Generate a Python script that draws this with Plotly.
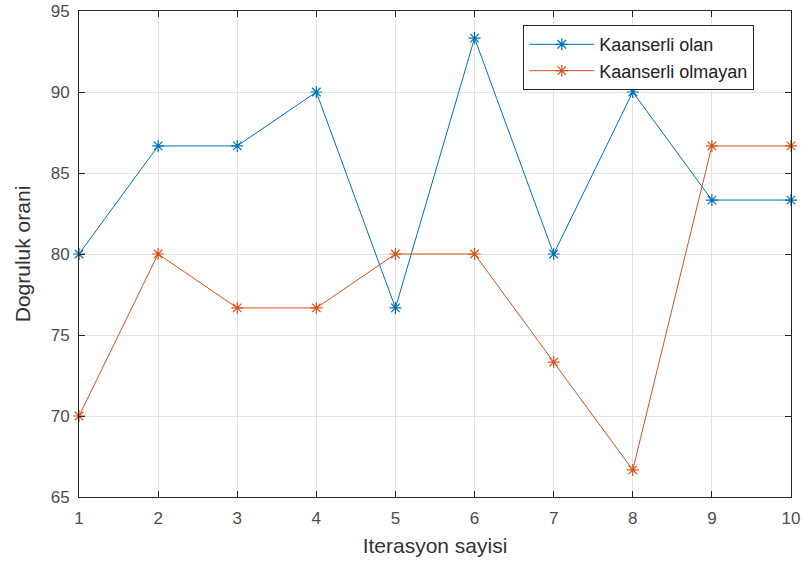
import plotly.graph_objects as go

iterations = [1, 2, 3, 4, 5, 6, 7, 8, 9, 10]
kaanserli_olan = [80, 86.67, 86.67, 90, 76.67, 93.33, 80, 90, 83.33, 83.33]
kaanserli_olmayan = [70, 80, 76.67, 76.67, 80, 80, 73.33, 66.67, 86.67, 86.67]
x_ticks = [1, 2, 3, 4, 5, 6, 7, 8, 9, 10]
y_ticks = [65, 70, 75, 80, 85, 90, 95]

blue = "#0072BD"
orange = "#D95319"
font = "Liberation Sans, Arial, sans-serif"

fig = go.Figure()
fig.add_trace(go.Scatter(x=iterations, y=kaanserli_olan, mode="lines+markers",
                         name="Kaanserli olan", cliponaxis=False,
                         line=dict(color=blue, width=1),
                         marker=dict(symbol="asterisk-open", size=10,
                                     line=dict(color=blue, width=1.2))))
fig.add_trace(go.Scatter(x=iterations, y=kaanserli_olmayan, mode="lines+markers",
                         name="Kaanserli olmayan", cliponaxis=False,
                         line=dict(color=orange, width=1),
                         marker=dict(symbol="asterisk-open", size=10,
                                     line=dict(color=orange, width=1.2))))

axis_common = dict(showline=True, linecolor="#262626", linewidth=1, mirror="ticks",
                   ticks="inside", ticklen=6, tickcolor="#262626",
                   showgrid=True, gridcolor="#e3e3e3", gridwidth=1,
                   zeroline=False, automargin=False, ticklabeloverflow="allow",
                   tickfont=dict(family=font, size=17, color="#4d4d4d"))

fig.update_xaxes(range=[1, 10], tickvals=x_ticks, ticklabelstandoff=6, **axis_common,
                 title=dict(text="Iterasyon sayisi", font=dict(family=font, size=21, color="#333333"),
                            standoff=10))
fig.update_yaxes(range=[65, 95], tickvals=y_ticks, ticklabelstandoff=5, **axis_common,
                 title=dict(text="Dogruluk orani", font=dict(family=font, size=21, color="#333333"),
                            standoff=14))

fig.update_layout(
    width=808, height=565,
    margin=dict(l=79, r=17, t=11, b=68),
    plot_bgcolor="white", paper_bgcolor="white",
    font=dict(family=font),
    legend=dict(x=0.624, y=0.971, xanchor="left", yanchor="top",
                bordercolor="#262626", borderwidth=1, bgcolor="white",
                font=dict(family=font, size=18, color="#222222"),
                tracegroupgap=0, itemwidth=65),
    showlegend=True,
)

fig.write_html("out.html", config={"displayModeBar": False},
               post_script="document.body.style.margin='0';")
